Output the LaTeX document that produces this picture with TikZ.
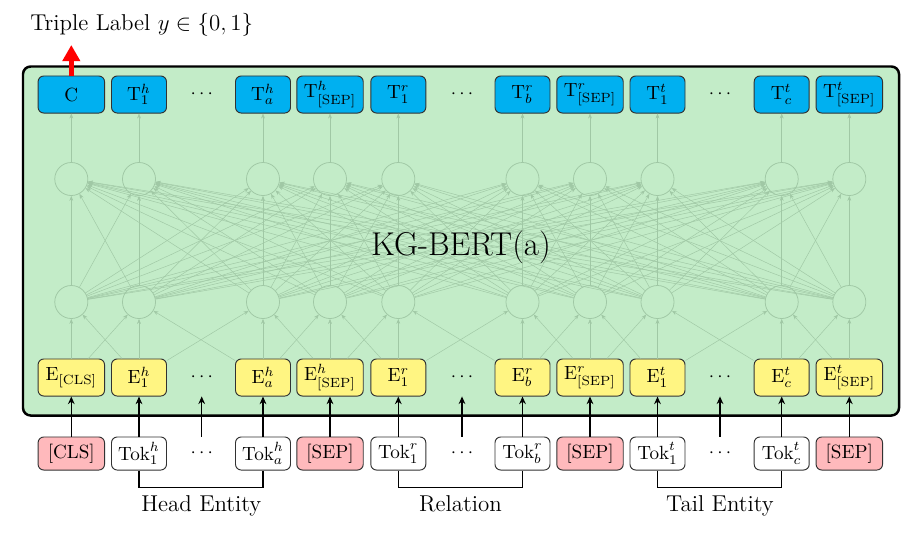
\documentclass[tikz,border=0pt]{standalone}
\usetikzlibrary{arrows.meta}
\definecolor{panelgreen}{RGB}{195,236,200}
\definecolor{tcyan}{RGB}{0,176,240}
\definecolor{eyellow}{RGB}{255,245,130}
\definecolor{tokpink}{RGB}{255,185,188}
\definecolor{netc}{RGB}{160,200,165}
\definecolor{boxborder}{RGB}{50,50,50}
\tikzset{
  box/.style={draw=boxborder, line width=0.5pt, rounded corners=3pt, inner sep=0pt, minimum height=19.4pt},
  wide/.style={minimum width=34.8pt},
  narrow/.style={minimum width=28.8pt},
  tbox/.style={box, fill=tcyan},
  ebox/.style={box, fill=eyellow},
  tokbox/.style={draw=boxborder, line width=0.5pt, rounded corners=3pt, inner sep=0pt, minimum height=17.3pt},
  specialtok/.style={tokbox, fill=tokpink, wide},
  plaintok/.style={tokbox, fill=white, narrow},
  neuron/.style={circle, draw=netc, line width=0.4pt, minimum size=17.3pt, inner sep=0pt},
  wire/.style={draw=netc, line width=0.25pt, -{Stealth[length=2.6pt,width=2pt]}},
  inarrow/.style={draw=black, line width=0.7pt, -{Stealth[length=4pt,width=3.5pt]}},
  edots/.style={inner sep=0pt, minimum height=19.4pt},
  kdots/.style={inner sep=0pt, minimum height=17.3pt},
  brace/.style={draw=black, line width=0.7pt},
  txt/.style={inner sep=0pt, font=\large},
}
\begin{document}
\begin{tikzpicture}[x=0.5236pt,y=-0.5236pt]
\useasboundingbox (0,0) rectangle (923,532);
% panel
\draw[fill=panelgreen, line width=1.3pt, rounded corners=4pt] (23,66.5) rectangle (899,415.5);
% neurons
\foreach \i/\x in {1/71.3,2/139,3/263,4/330,5/398.3,6/522.5,7/590,8/657.5,9/781.7,10/849.3}{
  \node[neuron] (u\i) at (\x,179) {};
  \node[neuron] (l\i) at (\x,302) {};
}
% output row
\node[tbox,wide]   (t1)  at (71.3,94.5)  {C};
\node[tbox,narrow] (t2)  at (139,94.5)   {$\mathrm{T}^h_1$};
\node[edots]       (td1) at (201.7,94.5) {$\cdots$};
\node[tbox,narrow] (t3)  at (263,94.5)   {$\mathrm{T}^h_a$};
\node[tbox,wide]   (t4)  at (330,94.5)   {$\mathrm{T}^h_{\mathrm{[SEP]}}$};
\node[tbox,narrow] (t5)  at (398.3,94.5) {$\mathrm{T}^r_1$};
\node[edots]       (td2) at (462,94.5)   {$\cdots$};
\node[tbox,narrow] (t6)  at (522.5,94.5) {$\mathrm{T}^r_b$};
\node[tbox,wide]   (t7)  at (590,94.5)   {$\mathrm{T}^r_{\mathrm{[SEP]}}$};
\node[tbox,narrow] (t8)  at (657.5,94.5) {$\mathrm{T}^t_1$};
\node[edots]       (td3) at (720,94.5)   {$\cdots$};
\node[tbox,narrow] (t9)  at (781.7,94.5) {$\mathrm{T}^t_c$};
\node[tbox,wide]   (t10) at (849.3,94.5) {$\mathrm{T}^t_{\mathrm{[SEP]}}$};
% embedding row
\node[ebox,wide]   (e1)  at (71.3,377.5)  {$\mathrm{E}_{\mathrm{[CLS]}}$};
\node[ebox,narrow] (e2)  at (139,377.5)   {$\mathrm{E}^h_1$};
\node[edots]       (ed1) at (201.7,377.5) {$\cdots$};
\node[ebox,narrow] (e3)  at (263,377.5)   {$\mathrm{E}^h_a$};
\node[ebox,wide]   (e4)  at (330,377.5)   {$\mathrm{E}^h_{\mathrm{[SEP]}}$};
\node[ebox,narrow] (e5)  at (398.3,377.5) {$\mathrm{E}^r_1$};
\node[edots]       (ed2) at (462,377.5)   {$\cdots$};
\node[ebox,narrow] (e6)  at (522.5,377.5) {$\mathrm{E}^r_b$};
\node[ebox,wide]   (e7)  at (590,377.5)   {$\mathrm{E}^r_{\mathrm{[SEP]}}$};
\node[ebox,narrow] (e8)  at (657.5,377.5) {$\mathrm{E}^t_1$};
\node[edots]       (ed3) at (720,377.5)   {$\cdots$};
\node[ebox,narrow] (e9)  at (781.7,377.5) {$\mathrm{E}^t_c$};
\node[ebox,wide]   (e10) at (849.3,377.5) {$\mathrm{E}^t_{\mathrm{[SEP]}}$};
% token row
\node[specialtok] (k1)  at (71.3,453.5)  {[CLS]};
\node[plaintok]   (k2)  at (139,453.5)   {$\mathrm{Tok}^h_1$};
\node[kdots]      (kd1) at (201.7,453.5) {$\cdots$};
\node[plaintok]   (k3)  at (263,453.5)   {$\mathrm{Tok}^h_a$};
\node[specialtok] (k4)  at (330,453.5)   {[SEP]};
\node[plaintok]   (k5)  at (398.3,453.5) {$\mathrm{Tok}^r_1$};
\node[kdots]      (kd2) at (462,453.5)   {$\cdots$};
\node[plaintok]   (k6)  at (522.5,453.5) {$\mathrm{Tok}^r_b$};
\node[specialtok] (k7)  at (590,453.5)   {[SEP]};
\node[plaintok]   (k8)  at (657.5,453.5) {$\mathrm{Tok}^t_1$};
\node[kdots]      (kd3) at (720,453.5)   {$\cdots$};
\node[plaintok]   (k9)  at (781.7,453.5) {$\mathrm{Tok}^t_c$};
\node[specialtok] (k10) at (849.3,453.5) {[SEP]};
% network wires
\foreach \i in {1,...,10}{
  \draw[wire] (u\i) -- (t\i);
  \draw[wire] (e\i) -- (l\i);
  \foreach \j in {1,...,10}{ \draw[wire] (l\i) -- (u\j); }
}
\foreach \i [evaluate=\i as \j using int(\i+1)] in {1,...,9}{
  \draw[wire] (e\i) -- (l\j);
  \draw[wire] (e\j) -- (l\i);
}
% input arrows
\foreach \i in {1,...,10}{ \draw[inarrow] (k\i) -- (e\i); }
\foreach \i in {1,2,3}{ \draw[inarrow] (kd\i) -- (ed\i); }
% label and red arrow
\node[txt, anchor=base west] (lbl) at (30,30.5) {Triple Label $y \in \{0,1\}$};
\coordinate (ytip) at (71.3,45);
\draw[red, line width=2.4pt, -{Triangle[length=8.5pt,width=9pt]}] (t1.north) -- (ytip);
% model name
\node[inner sep=0pt, anchor=base, font=\LARGE] (kg) at (461,255) {KG-BERT(a)};
% brackets
\draw[brace] (k2.south) -- ++(0,16.7) -| (k3.south);
\draw[brace] (k5.south) -- ++(0,16.7) -| (k6.south);
\draw[brace] (k8.south) -- ++(0,16.7) -| (k9.south);
\node[txt, anchor=base] (hl) at (201.3,511.7) {Head Entity};
\node[txt, anchor=base] (rl) at (460.5,511.7) {Relation};
\node[txt, anchor=base] (tl) at (720,511.7) {Tail Entity};
\end{tikzpicture}
\end{document}
